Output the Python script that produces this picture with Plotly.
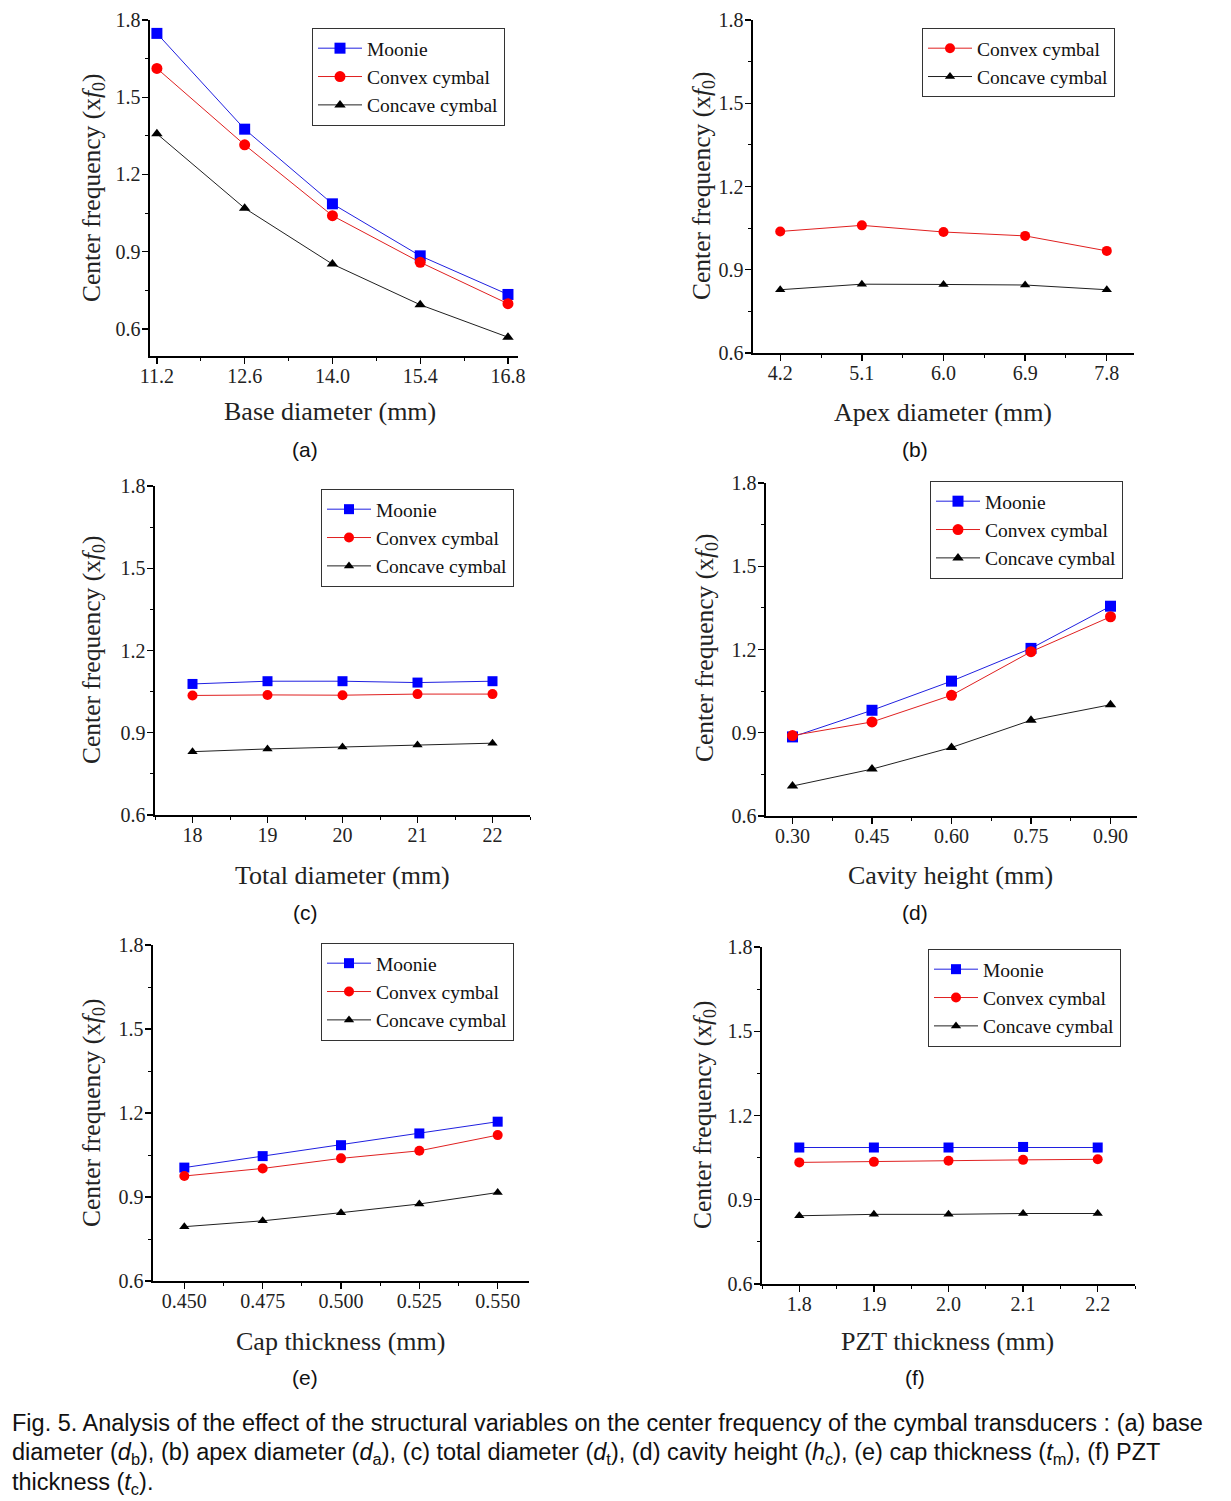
import plotly.graph_objects as go

W, H = 1231, 1501

# ---------------- data ----------------
base_diam = [11.2, 12.6, 14.0, 15.4, 16.8]
a_moonie = [1.748, 1.376, 1.086, 0.884, 0.734]
a_convex = [1.612, 1.315, 1.040, 0.859, 0.698]
a_concave = [1.358, 1.069, 0.852, 0.694, 0.568]

apex_diam = [4.2, 5.1, 6.0, 6.9, 7.8]
b_convex = [1.038, 1.060, 1.036, 1.022, 0.968]
b_concave = [0.828, 0.848, 0.847, 0.845, 0.828]

total_diam = [18, 19, 20, 21, 22]
c_moonie = [1.078, 1.088, 1.088, 1.083, 1.088]
c_convex = [1.036, 1.038, 1.037, 1.041, 1.041]
c_concave = [0.831, 0.841, 0.848, 0.855, 0.862]

cavity_h = [0.30, 0.45, 0.60, 0.75, 0.90]
d_moonie = [0.885, 0.981, 1.086, 1.204, 1.356]
d_convex = [0.890, 0.939, 1.035, 1.192, 1.318]
d_concave = [0.708, 0.769, 0.847, 0.945, 1.001]

cap_t = [0.450, 0.475, 0.500, 0.525, 0.550]
e_moonie = [1.005, 1.046, 1.085, 1.127, 1.169]
e_convex = [0.975, 1.002, 1.038, 1.065, 1.121]
e_concave = [0.794, 0.815, 0.844, 0.875, 0.916]

pzt_t = [1.8, 1.9, 2.0, 2.1, 2.2]
f_moonie = [1.086, 1.086, 1.086, 1.088, 1.086]
f_convex = [1.033, 1.035, 1.039, 1.042, 1.044]
f_concave = [0.843, 0.848, 0.848, 0.851, 0.851]

series_names = ["Moonie", "Convex cymbal", "Concave cymbal"]
x_titles = ["Base diameter (mm)", "Apex diameter (mm)", "Total diameter (mm)",
            "Cavity height (mm)", "Cap thickness (mm)", "PZT thickness (mm)"]
panel_labels = ["(a)", "(b)", "(c)", "(d)", "(e)", "(f)"]
y_title = "Center frequency (x<i>f</i><sub>0</sub>)"
caption_lines = [
    "Fig. 5. Analysis of the effect of the structural variables on the center frequency of the cymbal transducers : (a) base",
    "diameter (<i>d</i><sub>b</sub>), (b) apex diameter (<i>d</i><sub>a</sub>), (c) total diameter (<i>d</i><sub>t</sub>), "
    "(d) cavity height (<i>h</i><sub>c</sub>), (e) cap thickness (<i>t</i><sub>m</sub>), (f) PZT",
    "thickness (<i>t</i><sub>c</sub>).",
]

# ---------------- styling / layout ----------------
SERIF = "Liberation Serif, Times New Roman, serif"
SANS = "Liberation Sans, Arial, sans-serif"
colors = {"Moonie": "#0000FF", "Convex cymbal": "#FF0000", "Concave cymbal": "#000000"}
symbols = {"Moonie": "square", "Convex cymbal": "circle", "Concave cymbal": "triangle-up"}
line_cols = {"Moonie": "#2020E0", "Convex cymbal": "#E02020", "Concave cymbal": "#202020"}

def px_x(p):
    return p / W

def px_y(p):
    return 1 - p / H

panels = [
    dict(x=base_diam, s={"Moonie": a_moonie, "Convex cymbal": a_convex, "Concave cymbal": a_concave},
         xd=(150, 518), yd=(20, 356), xr=(11.09, 16.96), yr=(0.495, 1.8), tick0=11.2, dt=1.4, fmt=".1f",
         leg=(312, 28), ms=11, ytitle=(93, 188), xtitle=(330, 412), lab=(305, 449)),
    dict(x=apex_diam, s={"Convex cymbal": b_convex, "Concave cymbal": b_concave},
         xd=(753, 1134), yd=(20, 353), xr=(3.9, 8.1), yr=(0.6, 1.8), tick0=4.2, dt=0.9, fmt=".1f",
         leg=(922, 28), ms=10, ytitle=(703, 186), xtitle=(943, 413), lab=(915, 449)),
    dict(x=total_diam, s={"Moonie": c_moonie, "Convex cymbal": c_convex, "Concave cymbal": c_concave},
         xd=(155, 530), yd=(486, 815), xr=(17.5, 22.5), yr=(0.6, 1.8), tick0=18, dt=1, fmt="d",
         leg=(321, 489), ms=10, ytitle=(93, 650), xtitle=(342, 876), lab=(305, 912)),
    dict(x=cavity_h, s={"Moonie": d_moonie, "Convex cymbal": d_convex, "Concave cymbal": d_concave},
         xd=(766, 1137), yd=(483, 816), xr=(0.25, 0.95), yr=(0.6, 1.8), tick0=0.30, dt=0.15, fmt=".2f",
         leg=(930, 481), ms=11, ytitle=(706, 648), xtitle=(950, 876), lab=(915, 912)),
    dict(x=cap_t, s={"Moonie": e_moonie, "Convex cymbal": e_convex, "Concave cymbal": e_concave},
         xd=(153, 529), yd=(945, 1281), xr=(0.44, 0.56), yr=(0.6, 1.8), tick0=0.45, dt=0.025, fmt=".3f",
         leg=(321, 943), ms=10, ytitle=(93, 1113), xtitle=(340, 1341), lab=(305, 1377)),
    dict(x=pzt_t, s={"Moonie": f_moonie, "Convex cymbal": f_convex, "Concave cymbal": f_concave},
         xd=(762, 1135), yd=(947, 1284), xr=(1.75, 2.25), yr=(0.6, 1.8), tick0=1.8, dt=0.1, fmt=".1f",
         leg=(928, 949), ms=10, ytitle=(704, 1115), xtitle=(947, 1341), lab=(915, 1377)),
]

fig = go.Figure()
layout = dict(width=W, height=H, margin=dict(l=0, r=0, t=0, b=0, pad=0, autoexpand=False),
              paper_bgcolor="white", plot_bgcolor="white", showlegend=True)
annotations = []

for i, p in enumerate(panels):
    n = i + 1
    xa = "x" if n == 1 else f"x{n}"
    ya = "y" if n == 1 else f"y{n}"
    lg = "legend" if n == 1 else f"legend{n}"
    for name, vals in p["s"].items():
        fig.add_trace(go.Scatter(
            x=p["x"], y=vals, name=name, mode="lines+markers",
            xaxis=xa, yaxis=ya, legend=lg,
            line=dict(color=line_cols[name], width=1),
            marker=dict(symbol=symbols[name], color=colors[name],
                        size=p["ms"] if name != "Concave cymbal" else p["ms"] - 1,
                        line=dict(width=0)),
        ))
    xkey = "xaxis" if n == 1 else f"xaxis{n}"
    ykey = "yaxis" if n == 1 else f"yaxis{n}"
    common = dict(showgrid=False, zeroline=False, showline=True, linecolor="black", linewidth=1.6,
                  ticks="outside", ticklen=6, tickwidth=1.3, tickcolor="black", automargin=False,
                  tickfont=dict(family=SERIF, size=20, color="#222"), mirror=False)
    layout[xkey] = dict(common, domain=[px_x(p["xd"][0]), px_x(p["xd"][1])], anchor=ya,
                        range=list(p["xr"]), tickmode="linear", tick0=p["tick0"], dtick=p["dt"],
                        tickformat=p["fmt"], ticklabelstandoff=-5,
                        minor=dict(ticks="outside", ticklen=3, tickcolor="black", tickwidth=1,
                                   tick0=p["tick0"], dtick=p["dt"] / 2, showgrid=False))
    layout[ykey] = dict(common, domain=[px_y(p["yd"][1]), px_y(p["yd"][0])], anchor=xa,
                        range=list(p["yr"]), tickmode="linear", tick0=0.6, dtick=0.3, tickformat=".1f",
                        ticklabelstandoff=-2,
                        minor=dict(ticks="outside", ticklen=3, tickcolor="black", tickwidth=1,
                                   tick0=0.6, dtick=0.15, showgrid=False))
    layout[lg] = dict(x=px_x(p["leg"][0]), y=px_y(p["leg"][1]), xanchor="left", yanchor="top",
                      xref="paper", yref="paper", bgcolor="white", bordercolor="#333", borderwidth=1,
                      font=dict(family=SERIF, size=19.5, color="#111"), tracegroupgap=0,
                      itemwidth=44)
    annotations.append(dict(text=y_title, x=px_x(p["ytitle"][0]), y=px_y(p["ytitle"][1]),
                            xref="paper", yref="paper", showarrow=False, textangle=-90,
                            font=dict(family=SERIF, size=25.5, color="#222"),
                            xanchor="center", yanchor="middle"))
    annotations.append(dict(text=x_titles[i], x=px_x(p["xtitle"][0]), y=px_y(p["xtitle"][1]),
                            xref="paper", yref="paper", showarrow=False,
                            font=dict(family=SERIF, size=26, color="#222"),
                            xanchor="center", yanchor="middle"))
    annotations.append(dict(text=panel_labels[i], x=px_x(p["lab"][0]), y=px_y(p["lab"][1]),
                            xref="paper", yref="paper", showarrow=False,
                            font=dict(family=SANS, size=21, color="#111"),
                            xanchor="center", yanchor="middle"))

cap_y = [1423, 1453, 1483]
for line, yy in zip(caption_lines, cap_y):
    annotations.append(dict(text=line, x=px_x(10), y=px_y(yy), xref="paper", yref="paper",
                            showarrow=False, xanchor="left", yanchor="middle", align="left",
                            font=dict(family=SANS, size=23.5, color="#111")))

layout["annotations"] = annotations
fig.update_layout(**layout)
fig.write_html("out.html", config={"displayModeBar": False, "staticPlot": True},
               post_script="document.body.style.margin='0px';document.body.style.padding='0px';"
                           "document.body.style.overflow='hidden';")
